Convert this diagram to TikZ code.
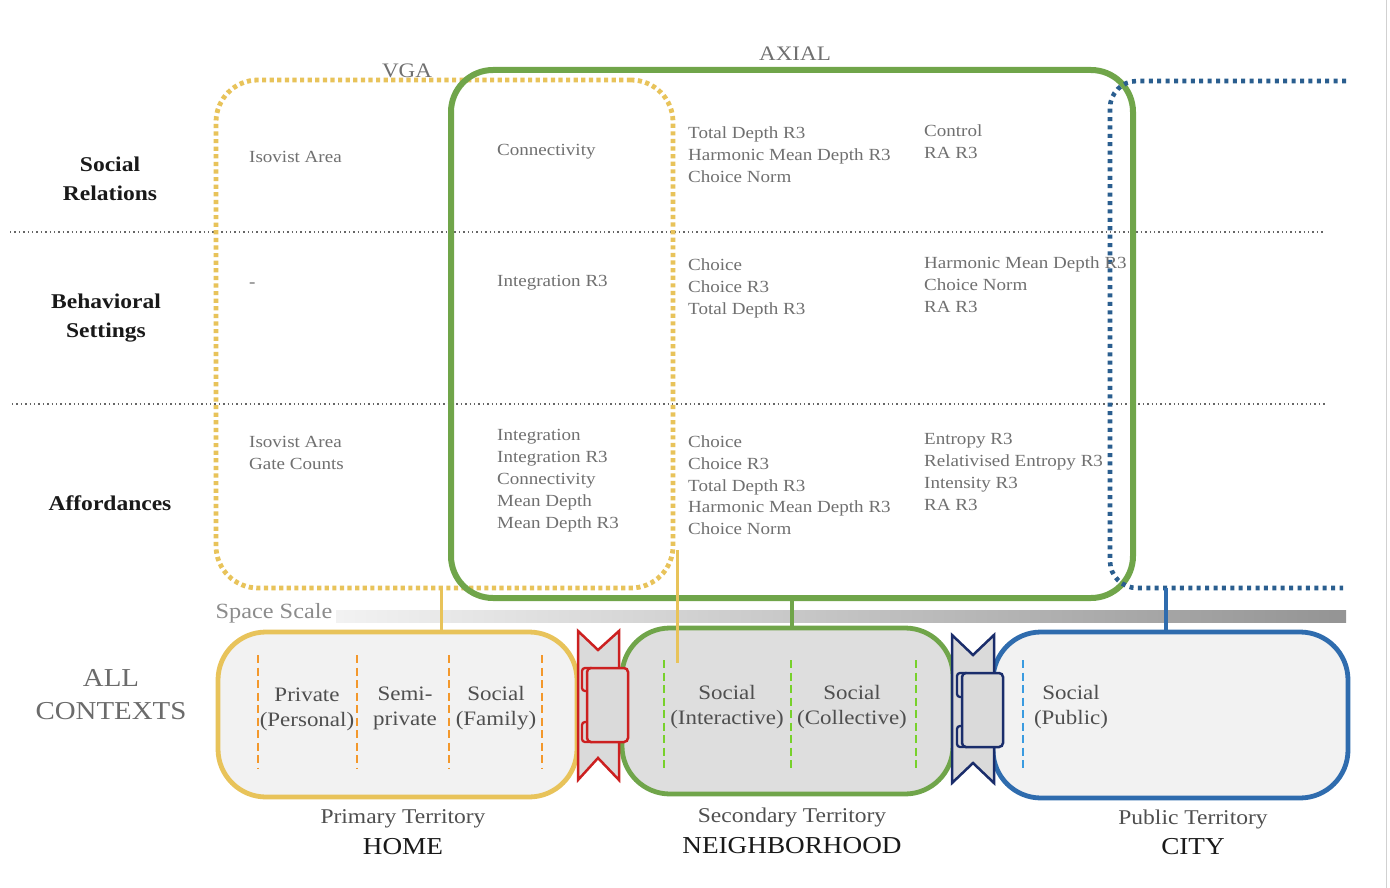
\documentclass[tikz,border=0pt]{standalone}
\usepackage{fontspec}
\setmainfont{Liberation Serif}[FakeStretch=1.12]
\usetikzlibrary{calc}
\definecolor{vgaY}{HTML}{E8C35A}
\definecolor{axG}{HTML}{70A54A}
\definecolor{dotB}{HTML}{2A5E8F}
\definecolor{cityB}{HTML}{2F6CAE}
\definecolor{dashO}{HTML}{F3982C}
\definecolor{dashG}{HTML}{77D12B}
\definecolor{dashB}{HTML}{3A9BE0}
\definecolor{bowR}{HTML}{CC2020}
\definecolor{bowN}{HTML}{1A2D6B}
\definecolor{metricC}{HTML}{707070}
\definecolor{labelC}{HTML}{4F4F4F}
\definecolor{sepC}{HTML}{666666}
\definecolor{lightF}{HTML}{F2F2F2}
\definecolor{darkF}{HTML}{DEDEDE}
\definecolor{bowF}{HTML}{DADADA}
\tikzset{
  metric/.style={font=\fontsize{17}{22}\selectfont, text=metricC, align=left, anchor=north west, inner sep=0pt},
  rowlabel/.style={font=\bfseries\fontsize{21}{29}\selectfont, text=black!90, align=center, inner sep=0pt},
  terrtext/.style={font=\fontsize{20.5}{25}\selectfont, text=labelC, align=center, inner sep=0pt},
  terrname/.style={font=\fontsize{21}{25}\selectfont, text=labelC, inner sep=0pt},
  terrbig/.style={font=\fontsize{24.3}{28}\selectfont, text=black!90, inner sep=0pt},
  toplabel/.style={font=\fontsize{20.6}{24}\selectfont, text=metricC, inner sep=0pt},
  sepline/.style={draw=sepC, line width=1.4pt, dash pattern=on 1.4pt off 3pt},
  vgabox/.style={draw=vgaY, line width=4.8pt, dash pattern=on 4.2pt off 3.4pt, rounded corners=42pt, inner sep=0pt},
  axbox/.style={draw=axG, line width=6pt, rounded corners=42pt, inner sep=0pt},
  bluedots/.style={draw=dotB, line width=4.6pt, dash pattern=on 4pt off 4.4pt, rounded corners=27pt},
  terrbox/.style={line width=4.8pt, rounded corners=48pt, inner sep=0pt},
  tdash/.style={line width=2.3pt, dash pattern=on 8pt off 4.5pt},
}
\begin{document}
\begin{tikzpicture}[x=1pt,y=-1pt]
\useasboundingbox (0,0) rectangle (1390,888);
\fill[white] (0,0) rectangle (1390,888);
\draw[black!18, line width=1pt] (1386,0) -- (1386,888);

% separators
\draw[sepline] (10,232) -- (1325,232);
\draw[sepline] (12,404) -- (1327,404);

% space scale bar
\shade[left color=black!5, right color=black!42] (336,610) rectangle (1346,622);
\node[font=\fontsize{21.7}{24}\selectfont, text=black!45, inner sep=0pt] (ss) at (274,613) {Space Scale};

% big frames
\node[vgabox, minimum width=457pt, minimum height=508pt] (vga) at (444.5,334) {};
\node[axbox, minimum width=682pt, minimum height=528pt] (ax) at (792,334) {};
\draw[bluedots] (1346,81) -- (1110,81) -- (1110,588) -- (1343,588);
\coordinate (bluebot) at (1166,588);

\node[toplabel] (vgal) at (407,71) {VGA};
\node[toplabel] (axl) at (795,54) {AXIAL};

% territory boxes
\node[terrbox, draw=vgaY, fill=lightF, minimum width=359pt, minimum height=165pt] (home) at (397.5,714.5) {};
\node[terrbox, draw=axG, fill=darkF, minimum width=331pt, minimum height=166pt] (nbh) at (787.5,711) {};
\node[terrbox, draw=cityB, fill=lightF, minimum width=355pt, minimum height=166pt] (city) at (1170.5,715) {};

% vertical connectors
\coordinate (xh) at (441,0);
\coordinate (xn) at (792,0);
\coordinate (xc) at (1166,0);
\draw[vgaY, line width=3pt] (vga.south -| xh) -- (home.north -| xh);
\draw[axG, line width=4pt] (ax.south -| xn) -- (nbh.north -| xn);
\draw[cityB, line width=3.5pt] (bluebot) -- (city.north -| xc);

% dashed dividers
\foreach \x in {258,357,449,542}{\draw[dashO, tdash] (\x,655) -- (\x,768);}
\foreach \x in {664,791,916}{\draw[dashG, tdash] (\x,660) -- (\x,772);}
\draw[dashB, tdash] (1023,660) -- (1023,772);

% red bow connector
\draw[bowR, fill=bowF, line width=2.5pt, line join=miter] (578,631) -- (598,650) -- (619,631) -- (619,780) -- (598,758) -- (578,780) -- cycle;
\draw[bowR, fill=bowF, line width=2.3pt, rounded corners=3pt] (582,668) rectangle (594,691);
\draw[bowR, fill=bowF, line width=2.3pt, rounded corners=3pt] (582,722) rectangle (594,742);
\draw[bowR, fill=bowF, line width=2.5pt, rounded corners=4pt] (587,668) rectangle (628,742);

% navy bow connector
\draw[bowN, fill=bowF, line width=2.5pt, line join=miter] (952,635) -- (973,655) -- (994,635) -- (994,783) -- (973,763) -- (952,783) -- cycle;
\draw[bowN, fill=bowF, line width=2.3pt, rounded corners=3pt] (957,673) rectangle (969,697);
\draw[bowN, fill=bowF, line width=2.3pt, rounded corners=3pt] (957,726) rectangle (969,747);
\draw[bowN, fill=bowF, line width=2.5pt, rounded corners=4pt] (962,673) rectangle (1003,747);

% yellow line over neighbourhood
\coordinate (yl1) at (677,550);
\coordinate (yl2) at (677,663);
\draw[vgaY, line width=3pt] (yl1) -- (yl2);

% territory texts
\node[terrtext] (t1) at (307,709) {Private\\(Personal)};
\node[terrtext] (t2) at (405,708) {Semi-\\private};
\node[terrtext] (t3) at (496,708) {Social\\(Family)};
\node[terrtext] (t4) at (727,707) {Social\\(Interactive)};
\node[terrtext] (t5) at (852,707) {Social\\(Collective)};
\node[terrtext] (t6) at (1071,707) {Social\\(Public)};

\node[terrname] (p1) at (403,819) {Primary Territory};
\node[terrbig] (h1) at (403,847) {HOME};
\node[terrname] (p2) at (792,817) {Secondary Territory};
\node[terrbig] (h2) at (792,846) {NEIGHBORHOOD};
\node[terrname] (p3) at (1193,819) {Public Territory};
\node[terrbig] (h3) at (1193,847) {CITY};

\node[font=\fontsize{25.8}{33}\selectfont, text=black!58, align=center, inner sep=0pt] (all) at (111,695) {ALL\\CONTEXTS};

% row labels
\node[rowlabel] (r1) at (110,179) {Social\\Relations};
\node[rowlabel] (r2) at (106,318) {Behavioral\\Settings};
\node[rowlabel] (r3) at (110,503) {Affordances};

% metrics
\node[metric] (m1) at (249,151) {Isovist Area};
\node[metric] (m2) at (497,144) {Connectivity};
\node[metric] (m3) at (688,127) {Total Depth R3\\Harmonic Mean Depth R3\\Choice Norm};
\node[metric] (m4) at (924,125) {Control\\RA R3};
\node[metric] (m5) at (249,283) {-};
\node[metric] (m6) at (497,275) {Integration R3};
\node[metric] (m7) at (688,259) {Choice\\Choice R3\\Total Depth R3};
\node[metric] (m8) at (924,257) {Harmonic Mean Depth R3\\Choice Norm\\RA R3};
\node[metric] (m9) at (249,436) {Isovist Area\\Gate Counts};
\node[metric] (m10) at (497,429) {Integration\\Integration R3\\Connectivity\\Mean Depth\\Mean Depth R3};
\node[metric] (m11) at (688,435) {Choice\\Choice R3\\Total Depth R3\\Harmonic Mean Depth R3\\Choice Norm};
\node[metric] (m12) at (924,433) {Entropy R3\\Relativised Entropy R3\\Intensity R3\\RA R3};
\end{tikzpicture}
\end{document}
